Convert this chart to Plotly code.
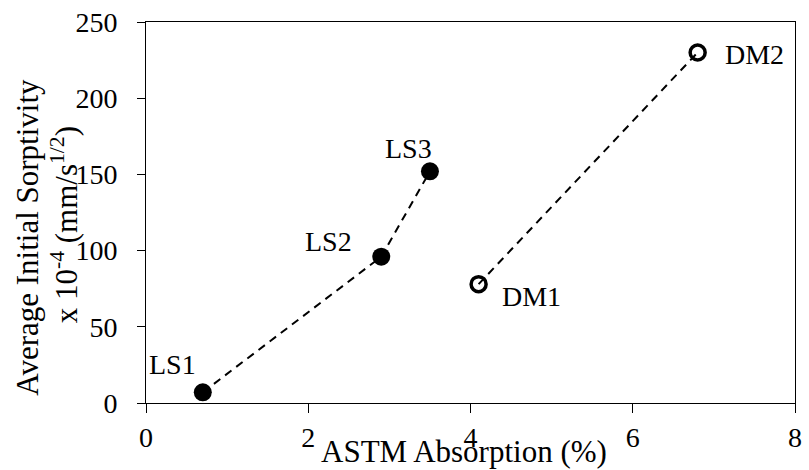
import plotly.graph_objects as go

ls_names = ["LS1", "LS2", "LS3"]
ls_x = [0.7, 2.9, 3.5]
ls_y = [7, 96, 152]

dm_names = ["DM1", "DM2"]
dm_x = [4.1, 6.8]
dm_y = [78, 230]

x_ticks = [0, 2, 4, 6, 8]
y_ticks = [0, 50, 100, 150, 200, 250]

FONT = "Times New Roman, Liberation Serif, serif"

fig = go.Figure()
fig.add_trace(go.Scatter(
    x=ls_x, y=ls_y, mode="lines+markers",
    line=dict(color="black", width=2, dash="8px,6px"),
    marker=dict(symbol="circle", size=18, color="black"),
    showlegend=False, cliponaxis=False))
fig.add_trace(go.Scatter(
    x=dm_x, y=dm_y, mode="lines+markers",
    line=dict(color="black", width=2, dash="8px,6px"),
    marker=dict(symbol="circle-open", size=15, color="black", line=dict(width=3.5)),
    showlegend=False, cliponaxis=False))

shifts = {"LS1": (-30, 28), "LS2": (-53, 15), "LS3": (-21, 23),
          "DM1": (53, -12), "DM2": (57, -2)}
for names, xs, ys in [(ls_names, ls_x, ls_y), (dm_names, dm_x, dm_y)]:
    for n, xv, yv in zip(names, xs, ys):
        dx, dy = shifts[n]
        fig.add_annotation(x=xv, y=yv, text=n, showarrow=False,
                           xshift=dx, yshift=dy,
                           font=dict(family=FONT, size=28, color="black"))

# axis titles
fig.add_annotation(xref="paper", yref="paper", x=(467 - 145.5) / 656.5, y=-(452 - 403.5) / 384,
                   text="ASTM Absorption (%)", showarrow=False, xanchor="center", yanchor="middle",
                   font=dict(family=FONT, size=31, color="black"))
fig.add_annotation(xref="paper", yref="paper", x=-(145.5 - 26) / 656.5, y=(403.5 - 236) / 384,
                   text="Average Initial Sorptivity", showarrow=False, textangle=-90,
                   xanchor="center", yanchor="middle",
                   font=dict(family=FONT, size=31, color="black"))
fig.add_annotation(xref="paper", yref="paper", x=-(145.5 - 63) / 656.5, y=(403.5 - 224) / 384,
                   text="x 10<sup>-4</sup> (mm/s<sup>1/2</sup>)", showarrow=False, textangle=-90,
                   xanchor="center", yanchor="middle",
                   font=dict(family=FONT, size=31, color="black"))

fig.update_layout(
    width=809, height=470,
    margin=dict(l=145.5, r=7, t=19.5, b=66.5),
    paper_bgcolor="white", plot_bgcolor="white",
    font=dict(family=FONT, size=28, color="black"),
    xaxis=dict(range=[0, 8], tickvals=x_ticks, showgrid=False, zeroline=False,
               showline=True, linecolor="black", linewidth=1, mirror=True,
               ticks="outside", ticklen=9, tickcolor="black",
               ticklabelstandoff=0, tickfont=dict(family=FONT, size=28)),
    yaxis=dict(range=[0, 250], tickvals=y_ticks, showgrid=False, zeroline=False,
               showline=True, linecolor="black", linewidth=1, mirror=True,
               ticks="outside", ticklen=8, tickcolor="black",
               ticklabelstandoff=14, tickfont=dict(family=FONT, size=28)),
)

fig.write_html("out.html")
